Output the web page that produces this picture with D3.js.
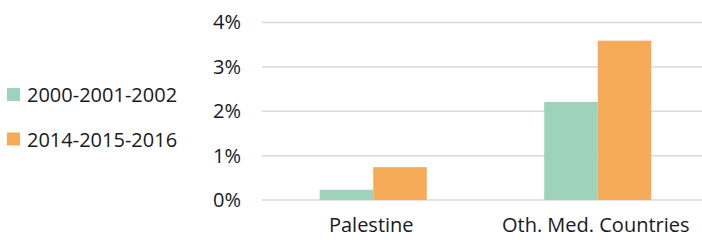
<!DOCTYPE html>
<html>
<head>
<meta charset="utf-8">
<script src="https://cdn.jsdelivr.net/npm/d3@7"></script>
<style>
  body { margin: 0; background: #fff; }
  svg { display: block; font-family: "Open Sans", "Noto Sans", sans-serif; }
</style>
</head>
<body>
<div id="chart"></div>
<script>
// data
const categories = ['Palestine', 'Oth. Med. Countries'];
const seriesNames = ['2000-2001-2002', '2014-2015-2016'];
const values2000 = [0.0023, 0.0221];
const values2014 = [0.0074, 0.0359];
const yTicks = [0, 0.01, 0.02, 0.03, 0.04];
const colors = ['#9dd3bb', '#f6ab58'];

const width = 702, height = 242;
const fontSize = 20;
const svg = d3.select('#chart').append('svg')
    .attr('width', width)
    .attr('height', height);

// scales
const x0 = d3.scaleBand().domain(categories).range([261, 710])
    .paddingInner(0.523).paddingOuter(0.2615);
const x1 = d3.scaleBand().domain(seriesNames).range([0, x0.bandwidth()]);
const y = d3.scaleLinear().domain([0, 0.04]).range([200, 22.5]);

// gridlines
svg.append('g')
    .selectAll('line')
    .data(yTicks)
    .join('line')
    .attr('x1', 262).attr('x2', 710)
    .attr('y1', d => y(d)).attr('y2', d => y(d))
    .attr('stroke', '#d9d9d9')
    .attr('stroke-width', 1.5);

// y axis labels
const yAxis = svg.append('g')
    .attr('transform', 'translate(241,0)')
    .call(d3.axisLeft(y).tickValues(yTicks).tickFormat(d3.format('.0%')).tickSize(0).tickPadding(0));
yAxis.select('.domain').remove();
yAxis.selectAll('text')
    .attr('font-family', '"Open Sans", "Noto Sans", sans-serif')
    .attr('font-size', fontSize)
    .attr('fill', '#1a1a1a');

// bars
const rows = categories.map((c, i) => ({ cat: c, vals: [values2000[i], values2014[i]] }));
svg.append('g')
    .selectAll('g')
    .data(rows)
    .join('g')
    .attr('transform', d => `translate(${x0(d.cat)},0)`)
    .selectAll('rect')
    .data(d => d.vals.map((v, j) => ({ name: seriesNames[j], v, j })))
    .join('rect')
    .attr('x', d => x1(d.name))
    .attr('width', x1.bandwidth())
    .attr('y', d => y(d.v))
    .attr('height', d => y(0) - y(d.v))
    .attr('fill', d => colors[d.j]);

// x axis labels
const xAxis = svg.append('g')
    .attr('transform', 'translate(-2,200)')
    .call(d3.axisBottom(x0).tickSize(0).tickPadding(18));
xAxis.select('.domain').remove();
xAxis.selectAll('text')
    .attr('font-family', '"Open Sans", "Noto Sans", sans-serif')
    .attr('font-size', fontSize)
    .attr('fill', '#1a1a1a');

// legend
const legend = svg.append('g')
    .selectAll('g')
    .data(seriesNames)
    .join('g')
    .attr('transform', (d, i) => `translate(7,${88 + i * 44.5})`);
legend.append('rect')
    .attr('width', 13).attr('height', 13)
    .attr('fill', (d, i) => colors[i]);
legend.append('text')
    .attr('x', 20).attr('y', 14)
    .attr('font-size', fontSize)
    .attr('fill', '#1a1a1a')
    .text(d => d);
</script>
</body>
</html>
